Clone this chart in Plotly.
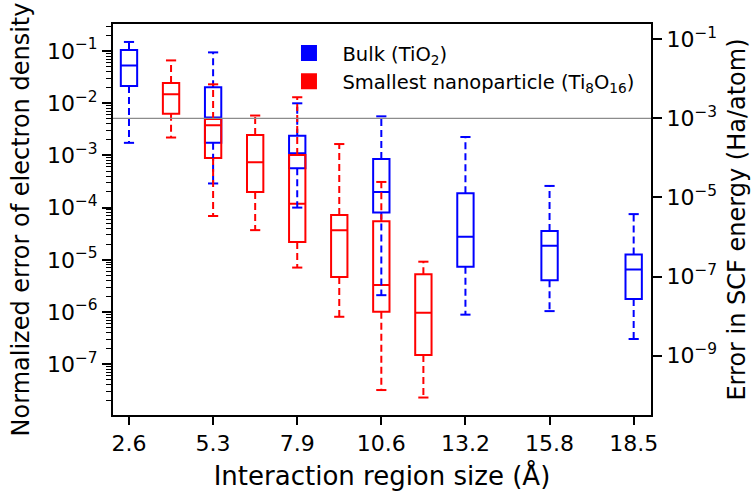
import plotly.graph_objects as go

# ---------------- data ----------------
tick_labels = ["2.6", "5.3", "7.9", "10.6", "13.2", "15.8", "18.5"]
blue_x = [2.646, 5.292, 7.938, 10.583, 13.229, 15.875, 18.521]
red_x = [3.969, 5.292, 6.615, 7.938, 9.260, 10.583, 11.906]

blue_hi = [0.149, 0.094, 9.95e-3, 5.6e-3, 2.25e-3, 2.6e-4, 7.5e-5]
blue_q3 = [0.105, 2.02e-2, 2.38e-3, 8.5e-4, 1.88e-4, 3.56e-5, 1.27e-5]
blue_med = [0.053, 5.3e-3, 1.1e-3, 2.0e-4, 2.77e-5, 1.86e-5, 6.5e-6]
blue_q1 = [0.0214, 1.75e-3, 5.66e-4, 8.1e-5, 7.4e-6, 4.05e-6, 1.77e-6]
blue_lo = [1.74e-3, 2.9e-4, 1.0e-4, 2.1e-6, 8.9e-7, 1.04e-6, 3.04e-7]

red_hi = [0.066, 2.3e-2, 5.8e-3, 1.3e-2, 1.65e-3, 3.1e-4, 9.2e-6]
red_q3 = [0.0244, 4.97e-3, 2.46e-3, 1.02e-3, 7.2e-5, 5.5e-5, 5.3e-6]
red_med = [0.0148, 3.8e-3, 7.4e-4, 1.19e-4, 3.7e-5, 3.3e-6, 9.7e-7]
red_q1 = [6.3e-3, 8.9e-4, 2.0e-4, 2.2e-5, 4.7e-6, 1.01e-6, 1.5e-7]
red_lo = [2.2e-3, 6.9e-5, 3.7e-5, 7.1e-6, 8.1e-7, 3.2e-8, 2.3e-8]

left_tick_vals = [1e-1, 1e-2, 1e-3, 1e-4, 1e-5, 1e-6, 1e-7]
left_tick_text = ["10<sup>\u22121</sup>", "10<sup>\u22122</sup>", "10<sup>\u22123</sup>",
                  "10<sup>\u22124</sup>", "10<sup>\u22125</sup>", "10<sup>\u22126</sup>",
                  "10<sup>\u22127</sup>"]
right_tick_vals = [1e-1, 1e-3, 1e-5, 1e-7, 1e-9]
right_tick_text = ["10<sup>\u22121</sup>", "10<sup>\u22123</sup>", "10<sup>\u22125</sup>",
                   "10<sup>\u22127</sup>", "10<sup>\u22129</sup>"]
threshold_energy = 1e-3

# ---------------- style ----------------
FONT = "DejaVu Sans"
TICK_FS = 22
BOX_W = 0.514
CAP_HALF = 0.16
X_RANGE = [2.143, 19.066]
Y_RANGE = [-7.973, -0.483]
Y2_RANGE = [-10.5, -0.613]

fig = go.Figure()


def add_series(xs, lo, q1, med, q3, hi, color):
    fig.add_trace(go.Box(
        x=xs, q1=q1, median=med, q3=q3, lowerfence=q1, upperfence=q3,
        width=BOX_W, whiskerwidth=0, fillcolor="rgba(0,0,0,0)",
        line=dict(color=color, width=2), boxpoints=False,
        showlegend=False, hoverinfo="skip"))
    wx, wy, cx, cy = [], [], [], []
    for x, l, a, b, h in zip(xs, lo, q1, q3, hi):
        wx += [x, x, None, x, x, None]
        wy += [b, h, None, a, l, None]
        cx += [x - CAP_HALF, x + CAP_HALF, None, x - CAP_HALF, x + CAP_HALF, None]
        cy += [h, h, None, l, l, None]
    fig.add_trace(go.Scatter(x=wx, y=wy, mode="lines",
                             line=dict(color=color, width=2, dash="7px,4px"),
                             showlegend=False, hoverinfo="skip"))
    fig.add_trace(go.Scatter(x=cx, y=cy, mode="lines",
                             line=dict(color=color, width=2),
                             showlegend=False, hoverinfo="skip"))


add_series(blue_x, blue_lo, blue_q1, blue_med, blue_q3, blue_hi, "#0000ff")
add_series(red_x, red_lo, red_q1, red_med, red_q3, red_hi, "#ff0000")

# threshold line on secondary axis
fig.add_trace(go.Scatter(x=X_RANGE, y=[threshold_energy, threshold_energy], yaxis="y2",
                         mode="lines", line=dict(color="#8c8c8c", width=1.2),
                         showlegend=False, hoverinfo="skip"))

# legend entries
fig.add_trace(go.Scatter(x=[None], y=[None], mode="markers",
                         marker=dict(symbol="square", size=18, color="#0000ff"),
                         name="Bulk (TiO<sub>2</sub>)"))
fig.add_trace(go.Scatter(x=[None], y=[None], mode="markers",
                         marker=dict(symbol="square", size=18, color="#ff0000"),
                         name="Smallest nanoparticle (Ti<sub>8</sub>O<sub>16</sub>)"))

fig.update_layout(
    width=754, height=491,
    margin=dict(l=113, r=103, t=24, b=76),
    paper_bgcolor="white", plot_bgcolor="white",
    font=dict(family=FONT, size=19.5, color="black"),
    boxmode="overlay",
    showlegend=True,
    legend=dict(x=0.302, y=0.975, xanchor="left", yanchor="top",
                bgcolor="rgba(0,0,0,0)", font=dict(size=19.5),
                tracegroupgap=0, itemsizing="trace", itemwidth=57),
    xaxis=dict(range=X_RANGE, tickmode="array", tickvals=blue_x, ticktext=tick_labels,
               automargin=False, tickfont=dict(size=TICK_FS),
               showgrid=False, zeroline=False, showline=True, linecolor="black",
               linewidth=2, mirror=True, ticks="outside", ticklen=8, tickwidth=1.5,
               tickcolor="black", ticklabelstandoff=0,
               title=dict(text="Interaction region size (\u00c5)", font=dict(size=26),
                          standoff=24)),
    yaxis=dict(type="log", range=Y_RANGE, tickmode="array", tickvals=left_tick_vals,
               ticktext=left_tick_text, automargin=False, tickfont=dict(size=TICK_FS),
               showgrid=False, zeroline=False, showline=True,
               linecolor="black", linewidth=2, ticks="outside", ticklen=9, tickwidth=1.5,
               tickcolor="black",
               minor=dict(ticks="outside", ticklen=5, tickwidth=1, tickcolor="black",
                          dtick="D1", showgrid=False),
               title=dict(text="Normalized error of electron density", font=dict(size=24),
                          standoff=10)),
    yaxis2=dict(type="log", range=Y2_RANGE, overlaying="y", side="right",
                automargin=False, tickfont=dict(size=TICK_FS),
                tickmode="array", tickvals=right_tick_vals, ticktext=right_tick_text,
                showgrid=False, zeroline=False, showline=True, linecolor="black",
                linewidth=2, ticks="outside", ticklen=9, tickwidth=1.5, tickcolor="black",
                title=dict(text="Error in SCF energy (Ha/atom)", font=dict(size=24),
                           standoff=12)),
)

fig.write_html("out.html", config={"displayModeBar": False},
               post_script="document.body.style.margin='0';")
